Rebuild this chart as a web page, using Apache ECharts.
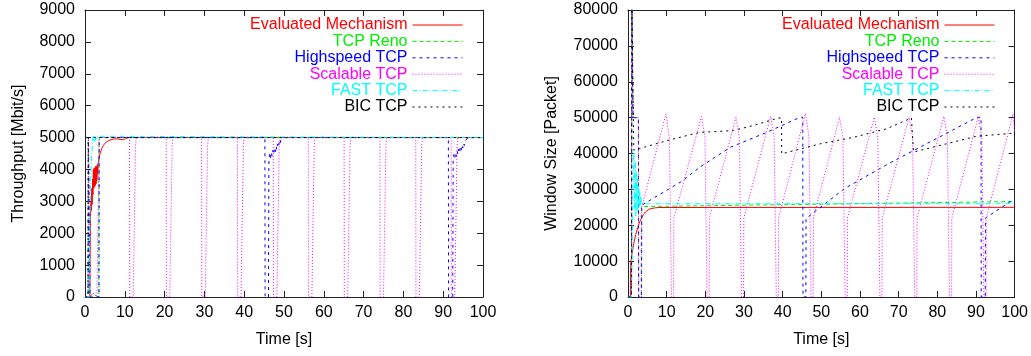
<!DOCTYPE html>
<html>
<head>
<meta charset="utf-8">
<script src="https://cdn.jsdelivr.net/npm/echarts/dist/echarts.min.js"></script>
<style>
  html, body { margin: 0; padding: 0; background: #fff; }
  #chart { width: 1031px; height: 356px; }
</style>
</head>
<body>
<div id="chart"></div>
<script>
// Flow names, in plotting order
const flowNames = ['Evaluated Mechanism', 'TCP Reno', 'Highspeed TCP', 'Scalable TCP', 'FAST TCP', 'BIC TCP'];

// Axis ranges and tick steps
const timeRange = [0, 100, 10];
const throughputRange = [0, 9000, 1000];
const windowRange = [0, 80000, 10000];

// ---- Throughput [Mbit/s] over time [s] ----
const evalThroughput = [
  [0, 0], [1.2, 0], [1.3, 1500], [1.4, 2600], [1.5, 3000], [1.6, 2700], [1.7, 3400], [1.8, 2900],
  [1.9, 3700], [2.0, 3200], [2.1, 4000], [2.2, 3400], [2.3, 4050], [2.4, 3450], [2.5, 4050],
  [2.6, 3500], [2.7, 4100], [2.8, 3550], [2.9, 4100], [3.0, 3650], [3.1, 4150], [3.2, 3850],
  [3.3, 4200], [3.5, 4350], [3.8, 4500], [4.2, 4650], [4.6, 4750], [5.0, 4820], [5.5, 4870],
  [6.0, 4910], [7.0, 4950], [8.0, 4960], [9.0, 4940], [9.6, 4930], [10.2, 4970], [11.0, 5000], [100, 5000]
];
const renoThroughput = [
  [0, 0], [0.8, 0], [0.85, 5000], [1.2, 5000], [1.25, 0], [1.8, 100], [2.4, 60], [2.9, 0],
  [3.5, 0], [3.55, 5000], [100, 5000]
];
const hsThroughput = [
  [0, 0], [0.8, 0], [0.85, 5000], [1.2, 5000], [1.25, 0], [3.5, 0], [3.55, 5000],
  [45.2, 5000], [45.25, 0], [46.1, 0], [46.2, 4300], [46.4, 4480], [46.6, 4360], [46.8, 4540],
  [47.0, 4420], [47.2, 4600], [47.4, 4480], [47.6, 4660], [47.8, 4550], [48.0, 4730], [48.2, 4620],
  [48.4, 4800], [48.6, 4700], [48.8, 4870], [49.0, 4800], [49.2, 4930], [49.5, 5000],
  [91.3, 5000], [91.35, 0], [92.4, 0], [92.5, 4300], [92.7, 4470], [92.9, 4350], [93.1, 4520],
  [93.3, 4410], [93.5, 4580], [93.7, 4470], [93.9, 4640], [94.1, 4530], [94.3, 4700], [94.5, 4600],
  [94.7, 4760], [94.9, 4670], [95.1, 4820], [95.3, 4750], [95.5, 4880], [95.8, 4850], [96.2, 5000],
  [100, 5000]
];
const stcpThroughput = [
  [0, 0], [0.8, 0], [0.85, 5000], [1.2, 5000], [1.25, 0], [2.0, 120], [2.6, 80], [3.0, 0],
  [3.5, 0], [3.55, 5000],
  [11.2, 5000], [11.25, 0], [12.1, 0], [12.7, 4750], [12.9, 5000],
  [20.4, 5000], [20.45, 0], [21.3, 0], [21.9, 4750], [22.1, 5000],
  [29.3, 5000], [29.35, 0], [30.2, 0], [30.8, 4750], [31.0, 5000],
  [38.3, 5000], [38.35, 0], [39.2, 0], [39.8, 4750], [40.0, 5000],
  [47.3, 5000], [47.35, 0], [48.2, 0], [48.8, 4750], [49.0, 5000],
  [56.1, 5000], [56.15, 0], [57.0, 0], [57.6, 4750], [57.8, 5000],
  [65.1, 5000], [65.15, 0], [66.0, 0], [66.6, 4750], [66.8, 5000],
  [74.1, 5000], [74.15, 0], [75.0, 0], [75.6, 4750], [75.8, 5000],
  [83.1, 5000], [83.15, 0], [84.0, 0], [84.6, 4750], [84.8, 5000],
  [92.0, 5000], [92.05, 0], [92.9, 0], [93.5, 4750], [93.7, 5000],
  [100, 5000]
];
const fastThroughput = [
  [0, 0], [1.0, 0], [1.1, 1300], [1.3, 2800], [1.5, 3900], [1.7, 4500], [1.9, 4900], [2.1, 5080],
  [2.3, 4880], [2.5, 5060], [2.7, 4920], [2.9, 5040], [3.2, 5000], [100, 5000]
];
const bicThroughput = [
  [0, 0], [0.75, 0], [0.8, 5000], [100, 5000]
];

// ---- Congestion window [packets] over time [s] ----
const evalWindow = [
  [0, 0], [0.6, 0], [0.7, 9500], [1.0, 11800], [1.5, 15000], [2.0, 17400], [2.5, 19300],
  [3.0, 20900], [3.5, 22000], [4.0, 23000], [4.5, 23700], [5.0, 24200], [5.5, 24500],
  [6.0, 24700], [7.0, 24850], [8.0, 24950], [100, 25000]
];
const renoWindow = [
  [0, 0], [0.9, 0], [1.0, 82000], [1.2, 82000], [1.3, 50000], [2.7, 50000], [2.75, 0],
  [3.4, 0], [3.45, 25200], [100, 26600]
];
const hsWindow = [
  [0, 0], [0.9, 0], [1.0, 82000], [1.2, 82000], [1.3, 50000], [2.7, 50000], [2.75, 0],
  [3.5, 0], [3.55, 25600], [14.0, 32300], [18.7, 36300], [26.4, 41700], [35.9, 45900],
  [44.5, 50100], [45.2, 50100], [45.25, 0], [46.0, 0], [46.05, 21900], [56.1, 30300],
  [67.8, 37400], [90.3, 50100], [91.3, 50100], [91.35, 0], [92.4, 0], [92.45, 22000], [100, 27400]
];
const stcpWindow = [
  [0, 0], [0.9, 0], [1.0, 82000], [1.2, 82000], [1.3, 50000], [2.7, 50000], [2.75, 0],
  [3.5, 0], [3.55, 25000],
  [9.8, 51000], [10.7, 44500], [11.2, 44500], [11.25, 0], [11.8, 0], [11.85, 22000],
  [19.0, 50300], [19.9, 44800], [20.4, 44800], [20.45, 0], [21.0, 0], [21.05, 22000],
  [27.9, 50100], [28.8, 44500], [29.3, 44500], [29.35, 0], [29.9, 0], [29.95, 22000],
  [36.9, 50400], [37.8, 44800], [38.3, 44800], [38.35, 0], [38.9, 0], [38.95, 22000],
  [45.9, 51200], [46.8, 44500], [47.3, 44500], [47.35, 0], [47.9, 0], [47.95, 22000],
  [54.7, 50100], [55.6, 44500], [56.1, 44500], [56.15, 0], [56.7, 0], [56.75, 22000],
  [63.7, 50100], [64.6, 44500], [65.1, 44500], [65.15, 0], [65.7, 0], [65.75, 22000],
  [72.7, 50100], [73.6, 44500], [74.1, 44500], [74.15, 0], [74.7, 0], [74.75, 22000],
  [81.7, 50300], [82.6, 44800], [83.1, 44800], [83.15, 0], [83.7, 0], [83.75, 22000],
  [90.6, 50300], [91.5, 44500], [92.0, 44500], [92.05, 0], [92.6, 0], [92.65, 22000],
  [99.6, 51000], [100, 46000]
];
const fastWindow = [
  [0, 0], [0.9, 0], [1.0, 6000], [1.2, 22000], [1.4, 36000], [1.55, 40500], [1.7, 24000],
  [1.85, 38000], [2.0, 22500], [2.15, 35000], [2.3, 23500], [2.45, 33000], [2.6, 24500],
  [2.75, 31000], [2.9, 25000], [3.05, 29500], [3.2, 25500], [3.35, 28000], [3.5, 26000], [100, 26000]
];
const bicWindow = [
  [0, 0], [0.9, 0], [1.0, 82000], [1.4, 82000], [1.5, 40900], [10.1, 43600], [17.8, 45700],
  [19.0, 45900], [27.3, 46400], [32.4, 47800], [38.9, 49900], [39.7, 49900], [39.75, 39900],
  [49.7, 42700], [58.3, 44500], [66.9, 46900], [73.3, 49900], [73.8, 49900], [73.85, 40400],
  [90.1, 44800], [100, 45700]
];

const throughputData = [evalThroughput, renoThroughput, hsThroughput, stcpThroughput, fastThroughput, bicThroughput];
const windowData = [evalWindow, renoWindow, hsWindow, stcpWindow, fastWindow, bicWindow];

// Line styles, one per flow
const flowColors = ['#ff0000', '#00ee00', '#0000ff', '#ff00ff', '#00ffff', '#000000'];
const flowDash = ['solid', [4, 3], [3, 4], [1, 2], [5, 2, 1, 2], [2, 4]];

const FONT = 'Liberation Sans, Arial, Helvetica, sans-serif';
const tickStyle = { inside: true, length: 6, lineStyle: { color: '#222', width: 1 } };
const borderLine = { show: true, onZero: false, lineStyle: { color: '#222', width: 1 } };
const labelStyle = { color: '#000', fontSize: 16, fontFamily: FONT, formatter: v => String(v) };

function mainX(gridIndex) {
  return {
    type: 'value', gridIndex, min: timeRange[0], max: timeRange[1], interval: timeRange[2],
    position: 'bottom', axisLine: borderLine, axisTick: tickStyle, splitLine: { show: false },
    axisLabel: Object.assign({ margin: 8 }, labelStyle),
    name: 'Time [s]', nameLocation: 'middle', nameGap: 35,
    nameTextStyle: { color: '#000', fontSize: 16, fontFamily: FONT }
  };
}
function mirrorX(gridIndex) {
  return {
    type: 'value', gridIndex, min: timeRange[0], max: timeRange[1], interval: timeRange[2],
    position: 'top', axisLine: borderLine, axisTick: tickStyle, splitLine: { show: false },
    axisLabel: { show: false }
  };
}
function mainY(gridIndex, range, title, gap) {
  return {
    type: 'value', gridIndex, min: range[0], max: range[1], interval: range[2],
    position: 'left', axisLine: borderLine, axisTick: tickStyle, splitLine: { show: false },
    axisLabel: Object.assign({ margin: 10 }, labelStyle),
    name: title, nameLocation: 'middle', nameGap: gap,
    nameTextStyle: { color: '#000', fontSize: 16, fontFamily: FONT }
  };
}
function mirrorY(gridIndex, range) {
  return {
    type: 'value', gridIndex, min: range[0], max: range[1], interval: range[2],
    position: 'right', axisLine: borderLine, axisTick: tickStyle, splitLine: { show: false },
    axisLabel: { show: false }
  };
}

function buildSeries(dataSets, xIndex, yIndex) {
  return dataSets.map((d, i) => ({
    type: 'line', name: flowNames[i], data: d,
    xAxisIndex: xIndex, yAxisIndex: yIndex,
    symbol: 'none', showSymbol: false, clip: true, silent: true,
    lineStyle: { color: flowColors[i], width: 1, type: flowDash[i] },
    itemStyle: { color: flowColors[i] }
  }));
}

function buildLegend(rightPx) {
  return {
    orient: 'vertical', right: rightPx, top: 17, padding: 0,
    align: 'right', itemWidth: 50, itemHeight: 10, itemGap: 0.4,
    selectedMode: false,
    itemStyle: { opacity: 0 },
    lineStyle: { width: 1 },
    textStyle: { fontSize: 16, fontFamily: FONT, lineHeight: 16 },
    data: flowNames.map((n, i) => ({ name: n, textStyle: { color: flowColors[i] } }))
  };
}

const chart = echarts.init(document.getElementById('chart'), null, { renderer: 'canvas' });
chart.setOption({
  animation: false,
  backgroundColor: '#ffffff',
  grid: [
    { left: 85, top: 10, width: 398, height: 287 },
    { left: 628, top: 10, width: 387, height: 287 }
  ],
  xAxis: [mainX(0), mirrorX(0), mainX(1), mirrorX(1)],
  yAxis: [
    mainY(0, throughputRange, 'Throughput [Mbit/s]', 58),
    mirrorY(0, throughputRange),
    mainY(1, windowRange, 'Window Size [Packet]', 68),
    mirrorY(1, windowRange)
  ],
  legend: [buildLegend(1031 - 463), buildLegend(1031 - 995)],
  series: buildSeries(throughputData, 0, 0).concat(buildSeries(windowData, 2, 2))
});
</script>
</body>
</html>
